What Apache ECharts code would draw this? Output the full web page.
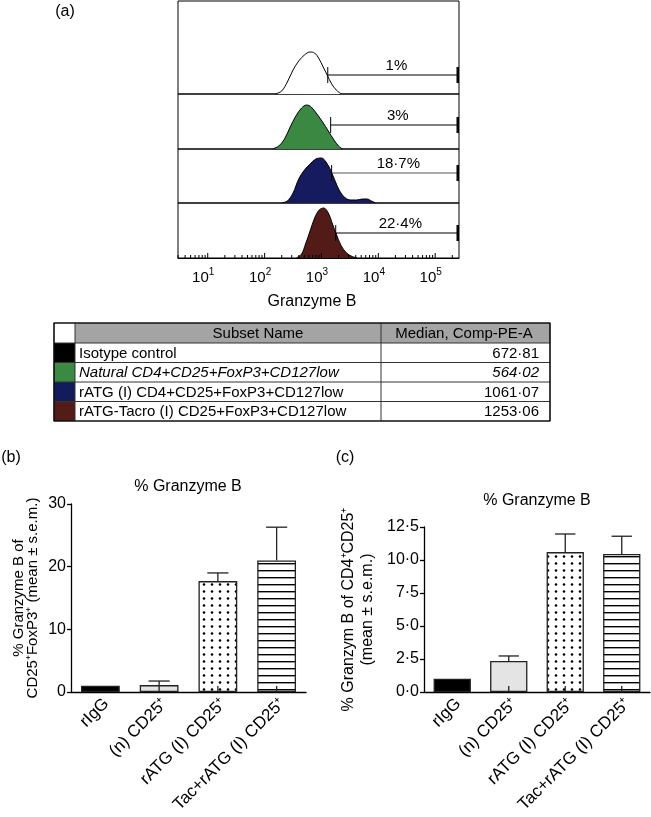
<!DOCTYPE html>
<html><head><meta charset="utf-8">
<script src="https://cdn.jsdelivr.net/npm/echarts@6/dist/echarts.min.js"></script>
<style>html,body{margin:0;padding:0;background:#fff}#c{width:651px;height:817px}</style>
</head><body><div id="c"></div>
<script>
// ---------- Panel (a): histograms, x = log10(Comp-PE-A), y = relative events ----------
const isoLog   = [2.19, 2.30, 2.40, 2.50, 2.60, 2.70, 2.80, 2.88, 2.95, 3.03, 3.10, 3.18, 3.26, 3.35];
const isoCount = [0,    3,    12,   24,   33,   39,   42,   41,   36,   27,   19,   10,   4,    0];
const natLog   = [2.14, 2.25, 2.35, 2.45, 2.55, 2.65, 2.74, 2.82, 2.92, 3.02, 3.12, 3.22, 3.30, 3.37];
const natCount = [0,    3,    10,   22,   33,   41,   44,   42,   35,   27,   18,   9,    3,    0];
const ratgLog   = [2.30, 2.40, 2.50, 2.60, 2.70, 2.80, 2.90, 3.00, 3.08, 3.16, 3.24, 3.32, 3.42, 3.52, 3.62, 3.72, 3.80, 3.88, 3.95];
const ratgCount = [0,    2,    10,   24,   33,   39,   44,   45,   41,   33,   22,   12,   5,    3,    3,    4,    4,    2,    0];
const tacLog   = [2.56, 2.65, 2.72, 2.80, 2.88, 2.96, 3.04, 3.12, 3.20, 3.26, 3.34, 3.44, 3.54, 3.63];
const tacCount = [0,    4,    14,   27,   40,   48,   50,   45,   33,   24,   13,   5,    1.5,  0];

const histLogs   = [isoLog, natLog, ratgLog, tacLog];
const histCounts = [isoCount, natCount, ratgCount, tacCount];
const histYMax   = [93, 55, 54, 55];
const histColors = ['#ffffff', '#3b8842', '#151b5e', '#521b17'];
const histMin = 3, histMax = 262144;
const histTickExps = [1, 2, 3, 4, 5];

const gateStart  = [1290, 1450, 1510, 1780];
const gateLevel  = [19, 24, 30, 25];
const gateLabels = ['1%', '3%', '18·7%', '22·4%'];

// ---------- Table ----------
const tableHeader   = ['Subset Name', 'Median, Comp-PE-A'];
const subsetNames   = ['Isotype control', 'Natural CD4+CD25+FoxP3+CD127low', 'rATG (I) CD4+CD25+FoxP3+CD127low', 'rATG-Tacro (I) CD25+FoxP3+CD127low'];
const subsetMedians = ['672·81', '564·02', '1061·07', '1253·06'];
const subsetItalic  = [false, true, false, false];
const subsetColors  = ['#000000', '#3b8a44', '#141b5c', '#531c17'];

// ---------- Panels (b) and (c) ----------
const barCats = ['rIgG', '(n) CD25⁺', 'rATG (I) CD25⁺', 'Tac+rATG (I) CD25⁺'];
const bMean = [1.0, 1.1, 17.7, 21.0];
const bSem  = [0, 0.65, 1.3, 5.3];
const cMean = [1.0, 2.35, 10.6, 10.45];
const cSem  = [0, 0.38, 1.37, 1.35];

const FONT = 'Liberation Sans';

function makeDots(){
  const c=document.createElement('canvas'); c.width=8; c.height=7;
  const g=c.getContext('2d'); g.fillStyle='#fff'; g.fillRect(0,0,8,7);
  g.fillStyle='#000'; g.beginPath(); g.arc(4,3.5,1.3,0,Math.PI*2); g.fill(); return c;
}
function makeStripes(){
  const c=document.createElement('canvas'); c.width=4; c.height=7;
  const g=c.getContext('2d'); g.fillStyle='#fff'; g.fillRect(0,0,4,7);
  g.fillStyle='#000'; g.fillRect(0,3,4,1.4); return c;
}
const barFills = ['#000000', '#e4e4e4', {image: makeDots(), repeat:'repeat'}, {image: makeStripes(), repeat:'repeat'}];

const chart = echarts.init(document.getElementById('c'), null, {renderer:'canvas'});

// layout
const rowTops = [1, 94, 149, 203], rowHeights = [93, 55, 54, 55];
const grids = [], xAxes = [], yAxes = [], series = [];
for (let r=0;r<4;r++){
  grids.push({left:178, width:281, top:rowTops[r], height:rowHeights[r], show:true, borderColor:'#000', borderWidth:1, backgroundColor:'transparent'});
  const bottom = r===3;
  xAxes.push({type:'log', logBase:10, gridIndex:r, min:histMin, max:histMax, show:bottom,
    axisLine:{show:bottom, lineStyle:{color:'#000', width:1}}, axisTick:{show:false}, splitLine:{show:false},
    axisLabel:{show:bottom, margin:9, padding:[0,9,0,0], color:'#000',
      formatter:(v)=>{const e=Math.log10(v), k=Math.round(e); if(Math.abs(e-k)>1e-6 || !histTickExps.includes(k)) return ''; return '{b|10}{s|'+k+'}';},
      rich:{b:{fontSize:15, fontFamily:FONT, lineHeight:18, verticalAlign:'bottom', color:'#000'}, s:{fontSize:10, fontFamily:FONT, lineHeight:10, verticalAlign:'top', color:'#000'}}}});
  yAxes.push({type:'value', gridIndex:r, min:0, max:histYMax[r], show:false, splitLine:{show:false}});
  series.push({type:'line', xAxisIndex:r, yAxisIndex:r, symbol:'none', smooth:0.35, z:2,
    data: histLogs[r].map((l,i)=>[Math.pow(10,l), histCounts[r][i]]),
    lineStyle:{color:'#000', width:1}, areaStyle:{color:histColors[r], opacity:1}});
  series.push({type:'custom', xAxisIndex:r, yAxisIndex:r, z:5, clip:false,
    data:[[gateStart[r], histMax, gateLevel[r]]],
    renderItem:(p, api)=>{
      const p1=api.coord([api.value(0), api.value(2)]), p2=api.coord([api.value(1), api.value(2)]);
      return {type:'group', children:[
        {type:'line', shape:{x1:p1[0], y1:p1[1], x2:p2[0], y2:p2[1]}, style:{stroke: r===2?'#555':'#000', lineWidth:1.2}},
        {type:'line', shape:{x1:p1[0], y1:p1[1]-8, x2:p1[0], y2:p1[1]+8}, style:{stroke:'#000', lineWidth:1}},
        {type:'rect', shape:{x:p2[0]-2.5, y:p2[1]-8, width:2.5, height:16}, style:{fill:'#000'}},
        {type:'text', x:(p1[0]+p2[0])/2+3, y:p1[1]-9, style:{text:gateLabels[r], align:'center', verticalAlign:'middle', font:'15px '+FONT, fill:'#000'}}
      ]};
    }});
}
// minor/major ticks on log axis
const histTicks = [];
for (let n=0;n<=5;n++) for (let k=1;k<=9;k++){ const v=k*Math.pow(10,n); if(v>=histMin && v<=histMax) histTicks.push([v, 0, k===1?5:3]); }
series.push({type:'custom', xAxisIndex:3, yAxisIndex:3, z:6, clip:false, data:histTicks,
  renderItem:(p, api)=>{ const pt=api.coord([api.value(0), 0]); const len=api.value(2);
    return {type:'line', shape:{x1:pt[0], y1:pt[1], x2:pt[0], y2:pt[1]-len}, style:{stroke:'#000', lineWidth:1}}; }});

// bar panels
function barPanel(gi, left, top, width, height, ymax, interval, means, sems, fmt, name, nameGap, lineH, nameSize){
  grids.push({left, top, width, height, show:false});
  xAxes.push({type:'category', gridIndex:gi, data:barCats,
    axisLine:{lineStyle:{color:'#000', width:1.3}}, axisTick:{show:false},
    axisLabel:{rotate:45, color:'#000', fontSize:17, fontFamily:FONT, margin:3, interval:0, verticalAlign:'top'}});
  yAxes.push({type:'value', gridIndex:gi, min:0, max:ymax, interval, splitLine:{show:false},
    axisLine:{show:true, lineStyle:{color:'#000', width:1.3}}, axisTick:{show:true, length:4, lineStyle:{color:'#000', width:1.3}},
    axisLabel:{color:'#000', fontSize:16, fontFamily:FONT, margin:5, formatter:fmt},
    name, nameLocation:'middle', nameRotate:90, nameGap,
    nameTextStyle:{color:'#000', fontSize:nameSize, fontFamily:FONT, lineHeight:lineH, align:'center'}});
  series.push({type:'bar', xAxisIndex:gi, yAxisIndex:gi, barWidth:'66%', z:2,
    data: means.map((m,i)=>({value:m, itemStyle:{color:barFills[i], borderColor:'#222', borderWidth:1.3}}))});
  series.push({type:'custom', xAxisIndex:gi, yAxisIndex:gi, z:3, clip:false,
    data: means.map((m,i)=>[i, m, m+sems[i], sems[i]]),
    renderItem:(p, api)=>{
      if(api.value(3)<=0) return null;
      const a=api.coord([api.value(0), api.value(1)]), b=api.coord([api.value(0), api.value(2)]), o=api.coord([api.value(0), 0]);
      const hw=api.size([1,0])[0]*0.18;
      return {type:'group', children:[
        {type:'line', shape:{x1:a[0], y1:a[1], x2:b[0], y2:b[1]}, style:{stroke:'#222', lineWidth:1.3}},
        {type:'line', shape:{x1:b[0]-hw, y1:b[1], x2:b[0]+hw, y2:b[1]}, style:{stroke:'#222', lineWidth:1.3}},
        {type:'line', shape:{x1:o[0], y1:o[1], x2:o[0], y2:o[1]-6}, style:{stroke:'#222', lineWidth:1.3}}
      ]};
    }});
}
barPanel(4, 71, 504, 235, 188, 30, 10, bMean, bSem, v=>String(v),
  '% Granzyme B of\nCD25⁺FoxP3⁺ (mean ± s.e.m.)', 31, 14, 15);
barPanel(5, 424, 527, 226, 165, 12.5, 2.5, cMean, cSem, v=>v.toFixed(1).replace('.', '·'),
  '% Granzym B of CD4⁺CD25⁺\n(mean ± s.e.m.)', 47, 19, 16);

// graphic: letters, titles, table
const gfx = [];
function txt(x, y, s, opt){ gfx.push({type:'text', x, y, z:10, style:Object.assign({text:s, font:'16px '+FONT, fill:'#000', align:'center', verticalAlign:'middle'}, opt||{})}); }
txt(65, 12, '(a)');
txt(11, 458, '(b)');
txt(345, 458, '(c)');
txt(188, 487, '% Granzyme B');
txt(537, 501, '% Granzyme B');
txt(312, 302, 'Granzyme B');

const tL=54, tC1=75, tC2=381, tR=550;
const tRows=[323, 343, 362.5, 382, 401.5, 421];
gfx.push({type:'rect', shape:{x:tC1, y:tRows[0], width:tR-tC1, height:tRows[1]-tRows[0]}, style:{fill:'#a4a4a4'}});
subsetColors.forEach((c,i)=>gfx.push({type:'rect', shape:{x:tL, y:tRows[i+1], width:tC1-tL, height:tRows[i+2]-tRows[i+1]}, style:{fill:c}}));
tRows.forEach((y,i)=>gfx.push({type:'line', shape:{x1:tL, y1:y, x2:tR, y2:y}, style:{stroke:'#333', lineWidth:1}}));
[tL, tC1, tC2, tR].forEach(x=>gfx.push({type:'line', shape:{x1:x, y1:tRows[0], x2:x, y2:tRows[5]}, style:{stroke:'#333', lineWidth:1}}));
gfx.push({type:'rect', shape:{x:tL, y:tRows[0], width:tR-tL, height:tRows[5]-tRows[0]}, style:{fill:'none', stroke:'#000', lineWidth:1.2}});
txt(258, (tRows[0]+tRows[1])/2+1, tableHeader[0], {font:'15px '+FONT});
txt(464, (tRows[0]+tRows[1])/2+1, tableHeader[1], {font:'15px '+FONT});
subsetNames.forEach((s,i)=>{
  const yc=(tRows[i+1]+tRows[i+2])/2+1;
  const f=(subsetItalic[i]?'italic ':'')+'15px '+FONT;
  txt(79, yc, s, {align:'left', font:f});
  txt(539, yc, subsetMedians[i], {align:'right', font:f});
});

chart.setOption({
  animation:false,
  backgroundColor:'#fff',
  textStyle:{fontFamily:FONT, color:'#000'},
  grid:grids, xAxis:xAxes, yAxis:yAxes, series,
  graphic:{elements:gfx}
});
</script></body></html>
